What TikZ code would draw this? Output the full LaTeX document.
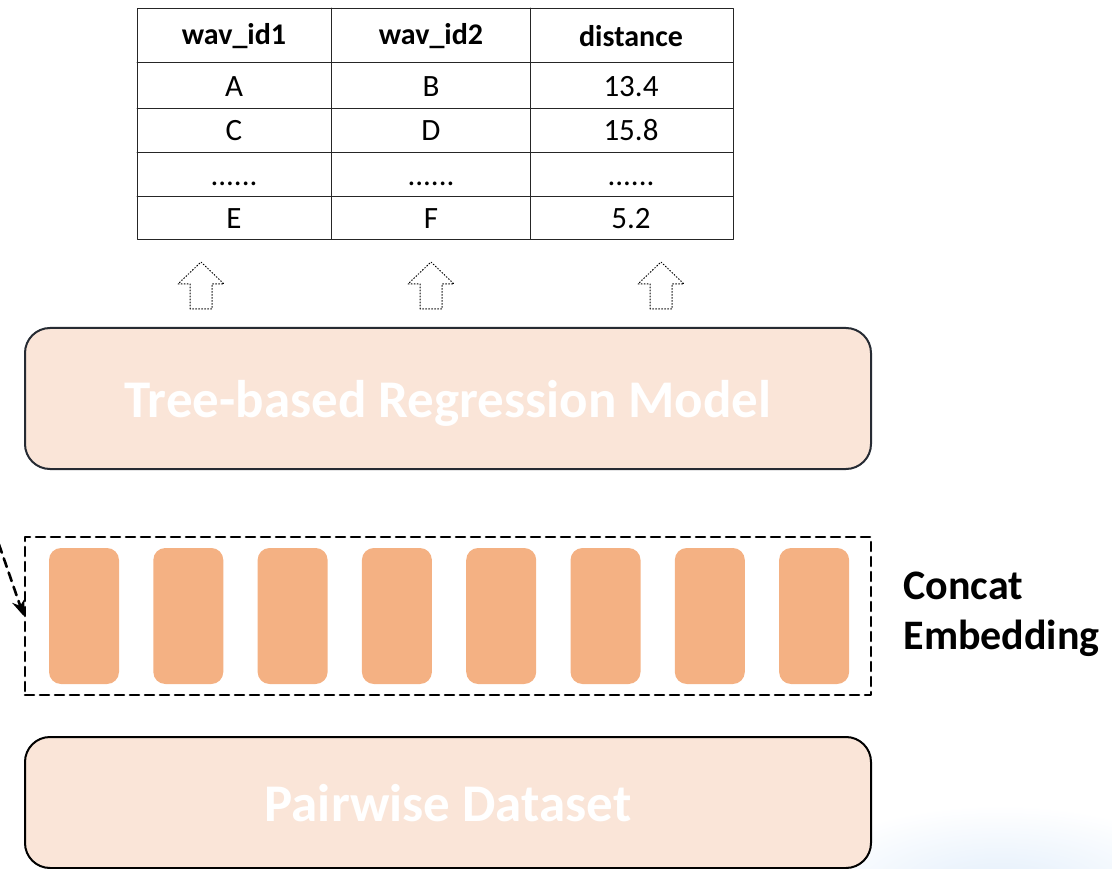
\documentclass[tikz,border=0pt]{standalone}
\usepackage{fontspec}
\setmainfont{Carlito}
\usetikzlibrary{arrows.meta}
\definecolor{boxfill}{HTML}{FAE5D8}
\definecolor{barfill}{HTML}{F4B183}
\definecolor{boxline}{HTML}{262B33}
\definecolor{swirl}{HTML}{E2EEFB}
\newcommand{\celldots}{......}

\begin{document}
\begin{tikzpicture}[x=1pt,y=-1pt,>={Stealth[length=16pt,width=13pt]},line cap=round,line join=round]
\useasboundingbox (0,0) rectangle (1112,869);
\shade[inner color=swirl,outer color=white] (1000,890) ellipse (210 and 85);
% table
\draw[line width=0.9pt,draw=black!85] (137,8) rectangle (733,239);
\foreach \y in {62,108,152,196}
  \draw[line width=0.9pt,draw=black!85] (137,\y) -- (733,\y);
\foreach \x in {331,530}
  \draw[line width=0.9pt,draw=black!85] (\x,8) -- (\x,239);
\node[font=\bfseries\fontsize{30}{34}\selectfont] (h1) at (234,36) {wav\_id1};
\node[font=\bfseries\fontsize{30}{34}\selectfont] (h2) at (431,36) {wav\_id2};
\node[font=\bfseries\fontsize{30}{34}\selectfont] (h3) at (631,36) {distance};
\foreach \a/\b/\c/\y/\n in {A/B/13.4/97/1,C/D/15.8/141/2,\celldots/\celldots/\celldots/186/3,E/F/5.2/229/4}{
  \node[anchor=base,font=\fontsize{31}{34}\selectfont] (a\n) at (234,\y) {\a};
  \node[anchor=base,font=\fontsize{31}{34}\selectfont] (b\n) at (431,\y) {\b};
  \node[anchor=base,font=\fontsize{31}{34}\selectfont] (c\n) at (631,\y) {\c};
}
% hollow arrows
\foreach \x in {201,431,661}
  \draw[dotted,line width=1pt] ({\x-11},309) -- ({\x-11},284) -- ({\x-23},284) -- (\x,262)
    -- ({\x+23},284) -- ({\x+11},284) -- ({\x+11},309) -- cycle;
\node[draw=boxline,line width=2pt,fill=boxfill,rounded corners=25pt,minimum width=846pt,minimum height=141pt,
  text=white,text depth=0pt,font=\bfseries\fontsize{53}{60}\selectfont] (model) at (448,398.5) {Tree-based Regression Model};
% embedding
\node[draw,dash pattern=on 9pt off 6pt,line width=2.6pt,minimum width=846pt,minimum height=158pt] (embed) at (448,616) {};
\foreach \i in {0,...,7}
  \node[fill=barfill,rounded corners=12pt,minimum width=70pt,minimum height=136pt,inner sep=0pt] (bar\i) at ({84+104.3*\i},616) {};
\node[anchor=west,align=left,font=\bfseries\fontsize{42}{50}\selectfont] (concat) at (900,614) {Concat\\Embedding};
\coordinate (feed) at (-6,530);
\draw[->,dash pattern=on 9pt off 6pt,line width=2.6pt] (feed) -- (embed.west);
\node[draw=black,line width=2pt,fill=boxfill,rounded corners=25pt,minimum width=846pt,minimum height=131pt,
  text=white,text depth=0pt,font=\bfseries\fontsize{53}{60}\selectfont] (pairs) at (448,802.5) {Pairwise Dataset};
\end{tikzpicture}
\end{document}
